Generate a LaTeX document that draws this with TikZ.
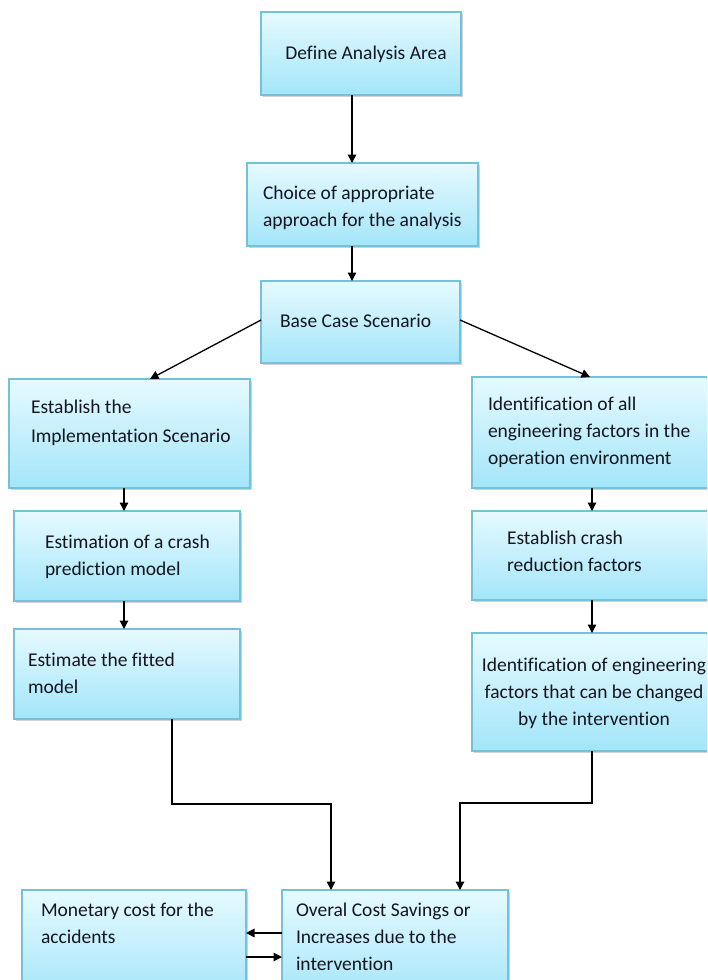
\documentclass[tikz,border=0pt]{standalone}
\usepackage{fontspec}
\setmainfont[Ligatures=NoCommon]{Carlito}
\usetikzlibrary{arrows.meta,shadows}
\definecolor{boxtop}{HTML}{E6FAFF}
\definecolor{boxbot}{HTML}{A3E5F9}
\definecolor{boxline}{HTML}{74C2D8}
\definecolor{txtc}{HTML}{15151F}
\tikzset{
  box/.style={draw=boxline, line width=1.2pt, top color=boxtop, bottom color=boxbot,
    inner sep=0pt, outer sep=0pt, anchor=north west,
    drop shadow={shadow xshift=1.5pt, shadow yshift=-1.8pt, opacity=0.35, fill=gray}},
  txt/.style={inner sep=0pt, outer sep=0pt, align=left, text=txtc,
    font=\fontsize{19.5}{27}\selectfont, execute at begin node=\strut},
  arr/.style={draw=black, line width=1.3pt, -{Triangle[length=8.5pt,width=8.5pt]}},
}
\begin{document}
\begin{tikzpicture}[x=1pt,y=-1pt]
\clip (0,0) rectangle (707,980);
\fill[white] (0,0) rectangle (707,980);
% boxes
\node[box, minimum width=200, minimum height=83] (b1) at (261,12) {};
\node[box, minimum width=231, minimum height=83] (b2) at (247,163) {};
\node[box, minimum width=199, minimum height=82] (b3) at (261,281) {};
\node[box, minimum width=241, minimum height=109] (b4) at (9,379) {};
\node[box, minimum width=245, minimum height=111] (b5) at (472,377) {};
\node[box, minimum width=226, minimum height=90] (b6) at (14,511) {};
\node[box, minimum width=245, minimum height=89] (b7) at (472,511) {};
\node[box, minimum width=226, minimum height=90] (b8) at (14,629) {};
\node[box, minimum width=245, minimum height=118] (b9) at (472,633) {};
\node[box, minimum width=224, minimum height=110] (b10) at (22,890) {};
\node[box, minimum width=226, minimum height=110] (b11) at (282,890) {};
% texts
\node[txt, anchor=north] (t1) at (366,40.5) {Define Analysis Area};
\node[txt, anchor=north west] (t2) at (263,185.5) {Choice of appropriate\\approach for the analysis};
\node[txt, anchor=north west] (t3) at (280,309) {Base Case Scenario};
\node[txt, anchor=north west] (t4) at (31,399.5) {Establish the\\[2pt]Implementation Scenario};
\node[txt, anchor=north west] (t5) at (488,397) {Identification of all\\engineering factors in the\\operation environment};
\node[txt, anchor=north west] (t6) at (45,535) {Estimation of a crash\\prediction model};
\node[txt, anchor=north west] (t7) at (507,531) {Establish crash\\reduction factors};
\node[txt, anchor=north west] (t8) at (28,653) {Estimate the fitted\\model};
\node[txt, anchor=north, align=center] (t9) at (594,658) {Identification of engineering\\factors that can be changed\\by the intervention};
\node[txt, anchor=north west] (t10) at (41,903) {Monetary cost for the\\accidents};
\node[txt, anchor=north west] (t11) at (296,903) {Overal Cost Savings or\\Increases due to the\\intervention};
% guide coordinates
\coordinate (x352) at (352,0);
\coordinate (x124) at (124,0);
\coordinate (x592) at (592,0);
\coordinate (x172) at (172,0);
\coordinate (x150) at (150,0);
\coordinate (x590) at (590,0);
\coordinate (m1) at (331,804);
\coordinate (m2) at (460,803);
\coordinate (y1) at (0,933);
\coordinate (y2) at (0,957);
\coordinate (y3) at (0,320);
% connectors
\draw[arr] (b1.south -| x352) -- (b2.north -| x352);
\draw[arr] (b2.south -| x352) -- (b3.north -| x352);
\draw[arr] (b3.west |- y3) -- (b4.north -| x150);
\draw[arr] (b3.east |- y3) -- (b5.north -| x590);
\draw[arr] (b4.south -| x124) -- (b6.north -| x124);
\draw[arr] (b5.south -| x592) -- (b7.north -| x592);
\draw[arr] (b6.south -| x124) -- (b8.north -| x124);
\draw[arr] (b7.south -| x592) -- (b9.north -| x592);
\draw[arr] (b8.south -| x172) |- (m1) -- (b11.north -| m1);
\draw[arr] (b9.south -| x592) |- (m2) -- (b11.north -| m2);
\draw[arr] (b11.west |- y1) -- (b10.east |- y1);
\draw[arr] (b10.east |- y2) -- (b11.west |- y2);
\end{tikzpicture}
\end{document}
